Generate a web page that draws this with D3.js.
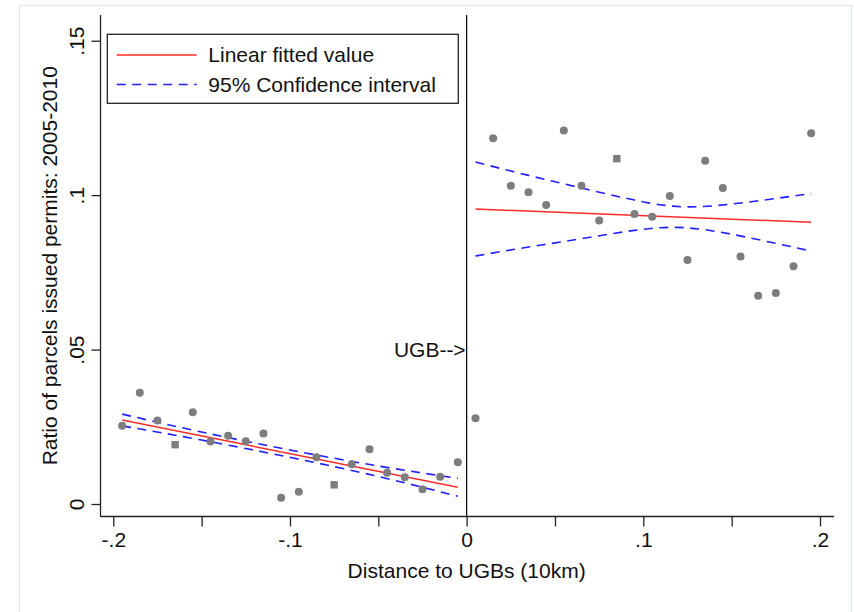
<!DOCTYPE html>
<html>
<head>
<meta charset="utf-8">
<script src="https://cdn.jsdelivr.net/npm/d3@7"></script>
<style>
  html, body { margin: 0; padding: 0; background: #fff; }
  svg text { font-family: "Liberation Sans", Arial, Helvetica, sans-serif; fill: #111; }
</style>
</head>
<body>
<svg id="chart" width="854" height="612"></svg>
<script>
// ---- data ----
const binsLeft = [-0.195,-0.185,-0.175,-0.165,-0.155,-0.145,-0.135,-0.125,-0.115,-0.105,
                  -0.095,-0.085,-0.075,-0.065,-0.055,-0.045,-0.035,-0.025,-0.015,-0.005];
const ratioLeft = [0.0253,0.0360,0.0270,0.0192,0.0297,0.0202,0.0221,0.0203,0.0228,0.0020,
                   0.0040,0.0151,0.0062,0.0129,0.0177,0.0101,0.0087,0.0048,0.0088,0.0135];
const binsRight = [0.005,0.015,0.025,0.035,0.045,0.055,0.065,0.075,0.085,0.095,
                   0.105,0.115,0.125,0.135,0.145,0.155,0.165,0.175,0.185,0.195];
const ratioRight = [0.0278,0.1184,0.1030,0.1009,0.0968,0.1209,0.1030,0.0918,0.1118,0.0939,
                    0.0930,0.0997,0.0790,0.1111,0.1023,0.0801,0.0674,0.0683,0.0770,0.1200];
const squareBins = [-0.165,-0.075,0.085];

const fitLeftX = [-0.195,-0.005];
const fitLeftY = [0.0272,0.0054];
const ciLeftX = [-0.195,-0.15,-0.1,-0.05,-0.005];
const ciLeftUpper = [0.0291,0.0233,0.0175,0.0123,0.0083];
const ciLeftLower = [0.0253,0.0207,0.0151,0.0089,0.0025];

const fitRightX = [0.005,0.195];
const fitRightY = [0.0955,0.0912];
const ciRightX = [0.005,0.035,0.065,0.095,0.125,0.16,0.195];
const ciRightUpper = [0.1107,0.1064,0.1023,0.0984,0.0962,0.0978,0.1005];
const ciRightLower = [0.0803,0.0832,0.0859,0.0886,0.0894,0.0862,0.0819];

const xTicks = [-0.2,-0.15,-0.1,-0.05,0,0.05,0.1,0.15,0.2];
const xTickLabels = {"-0.2":"-.2","-0.1":"-.1","0":"0","0.1":".1","0.2":".2"};
const yTicks = [0,0.05,0.1,0.15];
const yTickLabels = ["0",".05",".1",".15"];
const legendLabels = ["Linear fitted value","95% Confidence interval"];
const xTitle = "Distance to UGBs (10km)";
const yTitle = "Ratio of parcels issued permits: 2005-2010";
const markLabel = "UGB-->";

// ---- layout ----
const svg = d3.select("#chart");
const plotLeft = 100.5, plotRight = 834, plotTop = 15, plotBottom = 516.5;
const x = d3.scaleLinear().domain([-0.2,0.2]).range([113.3,820]);
const y = d3.scaleLinear().domain([0,0.15]).range([504,40.7]);
const FS = 21;

svg.append("rect").attr("width",854).attr("height",612).attr("fill","#fff");
// faint outer graph region border
svg.append("rect").attr("x",19.5).attr("y",5.5).attr("width",832).attr("height",640)
  .attr("fill","none").attr("stroke","#e4ebeb").attr("stroke-width",1.5);

// vertical line at 0
svg.append("line").attr("x1",x(0)).attr("x2",x(0)).attr("y1",plotTop).attr("y2",plotBottom)
  .attr("stroke","#000").attr("stroke-width",1.2);

// axes
const axisG = svg.append("g");
axisG.append("line").attr("x1",plotLeft).attr("x2",plotLeft).attr("y1",plotTop).attr("y2",plotBottom)
  .attr("stroke","#222").attr("stroke-width",1.3);
axisG.append("line").attr("x1",plotLeft).attr("x2",plotRight).attr("y1",plotBottom).attr("y2",plotBottom)
  .attr("stroke","#222").attr("stroke-width",1.3);

const xAxis = d3.axisBottom(x).tickValues(xTicks).tickSize(10).tickPadding(6)
  .tickFormat(d => xTickLabels[String(+d.toFixed(2))] || "");
const gx = svg.append("g").attr("transform",`translate(0,${plotBottom})`).call(xAxis);
gx.select(".domain").remove();
gx.selectAll(".tick line").attr("stroke","#222").attr("stroke-width",1.3);
gx.selectAll(".tick text").attr("font-size",FS).attr("fill","#111")
  .attr("font-family","Liberation Sans, Arial, sans-serif");

const yAxis = d3.axisLeft(y).tickValues(yTicks).tickSize(9).tickPadding(0)
  .tickFormat((d,i) => yTickLabels[i]);
const gy = svg.append("g").attr("transform",`translate(${plotLeft},0)`).call(yAxis);
gy.select(".domain").remove();
gy.selectAll(".tick line").attr("stroke","#222").attr("stroke-width",1.3);
gy.selectAll(".tick text")
  .attr("font-size",FS).attr("fill","#111")
  .attr("font-family","Liberation Sans, Arial, sans-serif")
  .attr("text-anchor","middle").attr("dy",null).attr("x",null)
  .attr("transform","translate(-17,0) rotate(-90)");

// titles
svg.append("text").attr("x",(x(-0.2)+x(0.2))/2).attr("y",578).attr("text-anchor","middle")
  .attr("font-size",FS).text(xTitle);
svg.append("text").attr("transform",`translate(57,${(plotTop+plotBottom)/2}) rotate(-90)`)
  .attr("text-anchor","middle").attr("font-size",FS).text(yTitle);

// CI and fit lines
const line = d3.line().x(d => x(d[0])).y(d => y(d[1]));
const curve = d3.line().x(d => x(d[0])).y(d => y(d[1])).curve(d3.curveNatural);
const blue = "#1f1fff", red = "#ff2a2a";
function ci(xs, vals){ return xs.map((v,i)=>[v, vals[i]]); }
[[ciLeftX,ciLeftUpper],[ciLeftX,ciLeftLower],[ciRightX,ciRightUpper],[ciRightX,ciRightLower]]
  .forEach(([xs,vs]) => {
    svg.append("path").attr("d",curve(ci(xs,vs))).attr("fill","none")
      .attr("stroke",blue).attr("stroke-width",1.6).attr("stroke-dasharray","9,6.5");
  });
[[fitLeftX,fitLeftY],[fitRightX,fitRightY]].forEach(([xs,vs]) => {
  svg.append("path").attr("d",line(ci(xs,vs))).attr("fill","none")
    .attr("stroke",red).attr("stroke-width",1.5);
});

// points
const pts = binsLeft.map((b,i)=>({b, v:ratioLeft[i]}))
  .concat(binsRight.map((b,i)=>({b, v:ratioRight[i]})));
const isSquare = d => squareBins.some(s => Math.abs(s-d.b) < 1e-9);
const gray = "#7d7d7d";
svg.append("g").selectAll("circle").data(pts.filter(d=>!isSquare(d))).join("circle")
  .attr("cx",d=>x(d.b)).attr("cy",d=>y(d.v)).attr("r",4).attr("fill",gray);
svg.append("g").selectAll("rect").data(pts.filter(isSquare)).join("rect")
  .attr("x",d=>x(d.b)-3.7).attr("y",d=>y(d.v)-3.7).attr("width",7.4).attr("height",7.4).attr("fill",gray);

// UGB label
svg.append("text").attr("x",x(0)-1).attr("y",357).attr("text-anchor","end")
  .attr("font-size",FS).text(markLabel);

// legend
const lg = svg.append("g");
lg.append("rect").attr("x",107.3).attr("y",34.3).attr("width",351).attr("height",69)
  .attr("fill","#fff").attr("stroke","#222").attr("stroke-width",1.3);
lg.append("line").attr("x1",116.7).attr("x2",196.7).attr("y1",55).attr("y2",55)
  .attr("stroke",red).attr("stroke-width",1.5);
lg.append("line").attr("x1",116.7).attr("x2",196.7).attr("y1",84.5).attr("y2",84.5)
  .attr("stroke",blue).attr("stroke-width",1.6).attr("stroke-dasharray","9,6.5");
lg.append("text").attr("x",208.3).attr("y",62).attr("font-size",FS).text(legendLabels[0]);
lg.append("text").attr("x",208.3).attr("y",91.5).attr("font-size",FS).text(legendLabels[1]);
</script>
</body>
</html>
